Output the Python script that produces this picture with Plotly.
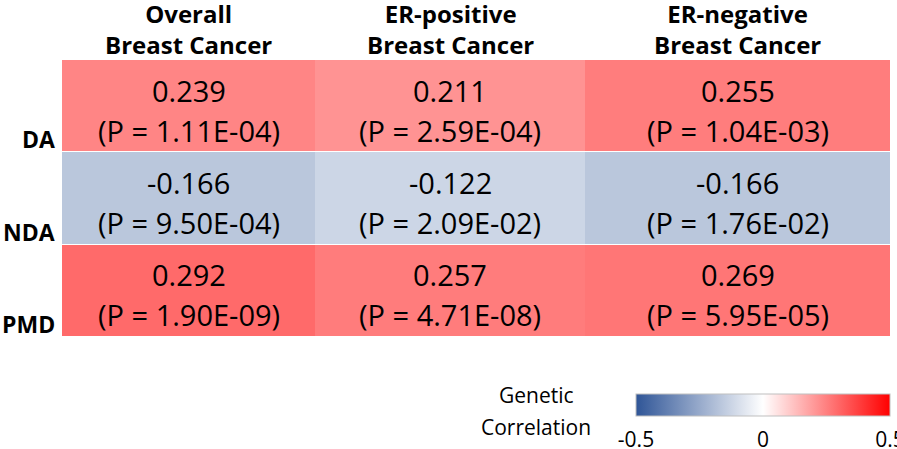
import plotly.graph_objects as go

# ---- data ----
columns = ["Overall<br>Breast Cancer", "ER-positive<br>Breast Cancer", "ER-negative<br>Breast Cancer"]
rows = ["DA", "NDA", "PMD"]
corr = [
    [0.239, 0.211, 0.255],
    [-0.166, -0.122, -0.166],
    [0.292, 0.257, 0.269],
]
pvals = [
    ["1.11E-04", "2.59E-04", "1.04E-03"],
    ["9.50E-04", "2.09E-02", "1.76E-02"],
    ["1.90E-09", "4.71E-08", "5.95E-05"],
]
cbar_ticks = [-0.5, 0, 0.5]
cbar_ticktext = ["-0.5", "0", "0.5"]
cbar_title = ["Genetic", "Correlation"]

# ---- layout helpers (column widths as in the original table) ----
col_edges = [0, 253, 523, 828]
col_centers = [(col_edges[i] + col_edges[i + 1]) / 2 for i in range(3)]
FONT = "Open Sans"
L, R, T, B = 62, 7, 60, 112
W, H = 897, 449
pw, ph = W - L - R, H - T - B

def px_x(px):
    return (px - L) / pw

def px_y(py):
    return (H - B - py) / ph

fig = go.Figure(
    go.Heatmap(
        z=corr,
        x=col_edges,
        y=list(range(len(rows))),
        zmin=-0.5,
        zmax=0.5,
        colorscale=[[0, "#2F5597"], [0.5, "#FFFFFF"], [1, "#FF0000"]],
        ygap=1,
        hoverinfo="skip",
        colorbar=dict(
            orientation="h",
            lenmode="pixels",
            len=254,
            thickness=22,
            x=px_x(763),
            xanchor="center",
            y=px_y(394),
            yanchor="top",
            xpad=0,
            ypad=0,
            outlinewidth=1,
            outlinecolor="#BFBFBF",
            tickvals=cbar_ticks,
            ticktext=cbar_ticktext,
            ticks="outside",
            ticklen=6,
            tickcolor="rgba(0,0,0,0)",
            ticklabeloverflow="allow",
            tickfont=dict(family=FONT, size=21, color="black"),
        ),
    )
)

annotations = []
for r in range(len(rows)):
    for c in range(len(columns)):
        annotations.append(dict(
            x=col_centers[c], y=r, xref="x", yref="y",
            text=f"{corr[r][c]:.3f}", showarrow=False,
            xanchor="center", yanchor="middle", yshift=16,
            font=dict(family=FONT, size=29, color="black"),
        ))
        annotations.append(dict(
            x=col_centers[c], y=r, xref="x", yref="y",
            text=f"(P = {pvals[r][c]})", showarrow=False,
            xanchor="center", yanchor="middle", yshift=-24,
            font=dict(family=FONT, size=29, color="black"),
        ))
for c, name in enumerate(columns):
    annotations.append(dict(
        x=col_centers[c], y=1, xref="x", yref="paper",
        text=f"<b>{name}</b>", showarrow=False,
        xanchor="center", yanchor="bottom", yshift=-3,
        font=dict(family=FONT, size=24, color="black"),
    ))
for r, name in enumerate(rows):
    annotations.append(dict(
        x=0, y=r + 0.5, xref="paper", yref="y",
        text=f"<b>{name}</b>", showarrow=False,
        xanchor="right", yanchor="bottom", xshift=-5, yshift=-5,
        font=dict(family=FONT, size=23, color="black"),
    ))
for i, (line, py) in enumerate(zip(cbar_title, [395, 427])):
    annotations.append(dict(
        x=px_x(536), y=px_y(py), xref="paper", yref="paper",
        text=line, showarrow=False,
        xanchor="center", yanchor="middle",
        font=dict(family=FONT, size=21, color="black"),
    ))

fig.update_layout(
    width=W, height=H,
    margin=dict(l=L, r=R, t=T, b=B, autoexpand=False),
    paper_bgcolor="white", plot_bgcolor="white",
    xaxis=dict(range=[col_edges[0], col_edges[-1]], showticklabels=False, showgrid=False, zeroline=False, ticks=""),
    yaxis=dict(range=[2.5, -0.5], showticklabels=False, showgrid=False, zeroline=False, ticks=""),
    annotations=annotations,
    font=dict(family=FONT, color="black"),
)

fig.write_html(
    "out.html",
    config={"displayModeBar": False},
    post_script="document.body.style.margin='0';document.body.style.overflow='hidden';",
)
